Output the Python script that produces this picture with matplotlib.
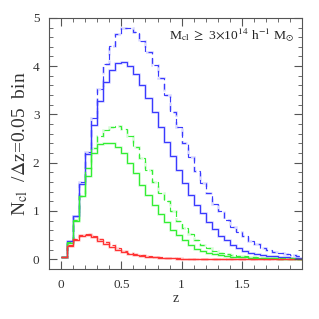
import numpy as np
import matplotlib
matplotlib.use('Agg')
import matplotlib.pyplot as plt
from matplotlib.ticker import MultipleLocator

plt.rcParams['font.family'] = 'serif'
plt.rcParams['font.serif'] = ['Liberation Serif', 'DejaVu Serif']
plt.rcParams['mathtext.fontset'] = 'stix'

# bin edges in z (bin width 0.05)
z_edges = np.round(np.arange(0, 2.0001, 0.05), 2)

blue_solid = [0.05, 0.38, 0.90, 1.56, 2.19, 2.79, 3.28, 3.68, 3.93, 4.06,
              4.08, 4.00, 3.83, 3.60, 3.35, 3.04, 2.74, 2.43, 2.13, 1.84,
              1.58, 1.33, 1.12, 0.95, 0.78, 0.62, 0.49, 0.39, 0.30, 0.23,
              0.18, 0.14, 0.11, 0.09, 0.07, 0.06, 0.05, 0.04, 0.03, 0.03]
blue_dashed = [0.05, 0.38, 0.90, 1.60, 2.22, 2.93, 3.53, 4.04, 4.42, 4.67,
               4.79, 4.79, 4.70, 4.53, 4.30, 4.03, 3.75, 3.40, 3.06, 2.73,
               2.41, 2.12, 1.82, 1.58, 1.37, 1.15, 0.99, 0.81, 0.67, 0.57,
               0.48, 0.38, 0.31, 0.24, 0.20, 0.16, 0.12, 0.10, 0.08, 0.07]
green_solid = [0.05, 0.33, 0.80, 1.30, 1.73, 2.20, 2.38, 2.41, 2.41, 2.33,
               2.20, 2.00, 1.78, 1.54, 1.33, 1.12, 0.94, 0.78, 0.60, 0.50,
               0.40, 0.29, 0.22, 0.17, 0.13, 0.10, 0.08, 0.07, 0.05, 0.05,
               0.04, 0.03, 0.03, 0.02, 0.02, 0.02, 0.01, 0.01, 0.01, 0.01]
green_dashed = [0.05, 0.35, 0.82, 1.32, 1.90, 2.30, 2.55, 2.68, 2.74, 2.75,
                2.70, 2.55, 2.33, 2.10, 1.85, 1.60, 1.38, 1.20, 1.00, 0.80,
                0.64, 0.52, 0.40, 0.29, 0.24, 0.17, 0.13, 0.11, 0.09, 0.07,
                0.06, 0.05, 0.04, 0.03, 0.03, 0.02, 0.02, 0.02, 0.02, 0.01]
red_solid = [0.04, 0.27, 0.40, 0.48, 0.50, 0.46, 0.38, 0.32, 0.25, 0.20,
             0.15, 0.11, 0.08, 0.06, 0.05, 0.04, 0.03, 0.02, 0.02, 0.01,
             0.01, 0.01, 0.01, 0.01, 0.0, 0.0, 0.0, 0.0, 0.0, 0.0,
             0.0, 0.0, 0.0, 0.0, 0.0, 0.0, 0.0, 0.0, 0.0, 0.0]
red_dashed = [0.05, 0.30, 0.42, 0.50, 0.52, 0.49, 0.42, 0.35, 0.29, 0.23,
              0.18, 0.14, 0.11, 0.08, 0.06, 0.05, 0.04, 0.03, 0.02, 0.02,
              0.01, 0.01, 0.01, 0.01, 0.01, 0.0, 0.0, 0.0, 0.0, 0.0,
              0.0, 0.0, 0.0, 0.0, 0.0, 0.0, 0.0, 0.0, 0.0, 0.0]

fig = plt.figure(figsize=(3.19, 3.19), dpi=100)
ax = fig.add_axes([0.154, 0.157, 0.793, 0.787])

curves = [
    (blue_dashed, '#3a3aff', '--'),
    (blue_solid, '#3a3aff', '-'),
    (green_dashed, '#33ee33', '--'),
    (green_solid, '#33ee33', '-'),
    (red_dashed, '#ff3333', '--'),
    (red_solid, '#ff3333', '-'),
]
# light copy underneath each histogram
for vals, col, ls in curves:
    style = (0, (3, 2)) if ls == '--' else '-'
    ax.stairs(vals, z_edges, baseline=None, color=col, alpha=0.2,
              lw=1.8, linestyle=style)
for vals, col, ls in curves:
    style = (0, (5, 3)) if ls == '--' else '-'
    ax.stairs(vals, z_edges, baseline=None, color=col, lw=0.85,
              linestyle=style)

ax.set_xlim(-0.1, 2.0)
ax.set_ylim(-0.2, 5.0)
ax.xaxis.set_major_locator(MultipleLocator(0.5))
ax.xaxis.set_minor_locator(MultipleLocator(0.1))
ax.yaxis.set_major_locator(MultipleLocator(1))
ax.yaxis.set_minor_locator(MultipleLocator(0.2))
ax.set_xticks([0, 0.5, 1, 1.5])
ax.set_xticklabels(['0', '0.5', '1', '1.5'])
ax.tick_params(which='both', direction='in', top=True, right=True,
               color='#555555', labelsize=9.5, labelcolor='#333333')
ax.tick_params(which='major', length=6, width=0.8, pad=7)
ax.tick_params(which='minor', length=3, width=0.6)
for s in ax.spines.values():
    s.set_color('#555555')
    s.set_linewidth(0.8)

ax.set_xlabel('z', fontsize=10, color='#333333', labelpad=1)
ax.set_ylabel(r'N$_{\rm cl}$  /$\Delta$z=0.05  bin', fontsize=14,
              color='#333333', labelpad=2)
ax.text(0.97, 0.93,
        r'M$_{\rm cl}$ $\geq$ 3$\times$10$^{14}$ h$^{-1}$ M$_{\odot}$',
        transform=ax.transAxes, ha='right', va='center', fontsize=9.7,
        color='#222222')

fig.savefig('out.png', dpi=100)
